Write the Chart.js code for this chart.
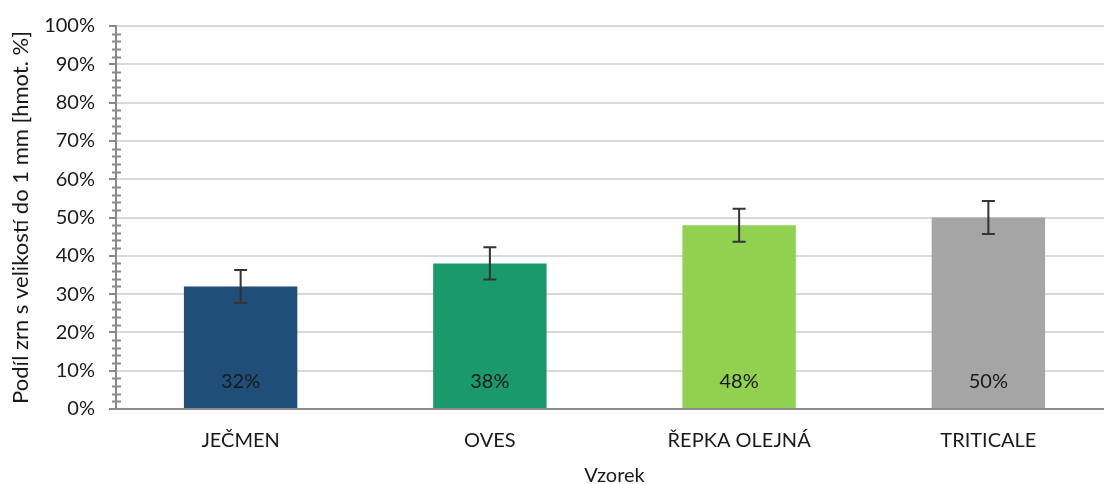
<!DOCTYPE html>
<html>
<head>
<meta charset="utf-8">
<script src="https://cdn.jsdelivr.net/npm/chart.js@4"></script>
<style>
  html, body { margin: 0; padding: 0; background: #fff; overflow: hidden; }
</style>
</head>
<body>
<canvas id="chart" width="1113" height="484"></canvas>
<script>
// Podíl zrn do 1 mm podle vzorku
const categories = ["JEČMEN", "OVES", "ŘEPKA OLEJNÁ", "TRITICALE"];
const shares = [32, 38, 48, 50];
const errors = [4.3, 4.2, 4.3, 4.3];
const barColors = ["#1F4E79", "#1A9A6C", "#92D050", "#A5A5A5"];

const FONT = "Lato, 'Open Sans', sans-serif";

// minor ticks on the y axis every 2 %, crossing the axis line
const minorTicks = {
  id: "minorTicks",
  afterDraw(chart) {
    const y = chart.scales.y;
    const ctx = chart.ctx;
    const x0 = chart.chartArea.left;
    ctx.save();
    ctx.strokeStyle = "#898989";
    ctx.lineWidth = 2;
    for (let v = 0; v <= 100; v += 2) {
      if (v % 10 === 0) continue;
      const py = Math.round(y.getPixelForValue(v)) + 0.5;
      ctx.beginPath();
      ctx.moveTo(x0 - 4, py);
      ctx.lineTo(x0 + 5, py);
      ctx.stroke();
    }
    ctx.restore();
  }
};

// error bars and value labels inside the bars
const barExtras = {
  id: "barExtras",
  afterDatasetsDraw(chart) {
    const ctx = chart.ctx;
    const y = chart.scales.y;
    const meta = chart.getDatasetMeta(0);
    ctx.save();
    meta.data.forEach((bar, i) => {
      const top = y.getPixelForValue(shares[i] + errors[i]);
      const bot = y.getPixelForValue(shares[i] - errors[i]);
      ctx.strokeStyle = "#333";
      ctx.lineWidth = 2;
      ctx.beginPath();
      ctx.moveTo(bar.x, top);
      ctx.lineTo(bar.x, bot);
      ctx.moveTo(bar.x - 6.5, top);
      ctx.lineTo(bar.x + 6.5, top);
      ctx.moveTo(bar.x - 6.5, bot);
      ctx.lineTo(bar.x + 6.5, bot);
      ctx.stroke();

      ctx.fillStyle = "#1a1a1a";
      ctx.font = "20px " + FONT;
      ctx.textAlign = "center";
      ctx.textBaseline = "middle";
      ctx.fillText(shares[i] + "%", bar.x, bar.base - 26);
    });
    ctx.restore();
  }
};

new Chart(document.getElementById("chart"), {
  type: "bar",
  data: {
    labels: categories,
    datasets: [{
      data: shares,
      backgroundColor: barColors,
      borderWidth: 0,
      barPercentage: 0.455,
      categoryPercentage: 1
    }]
  },
  options: {
    responsive: false,
    animation: false,
    layout: { padding: { top: 24, left: 0, right: 0, bottom: 0 } },
    plugins: {
      legend: { display: false },
      tooltip: { enabled: false }
    },
    scales: {
      x: {
        grid: { display: false },
        border: { color: "#898989", width: 2 },
        ticks: { color: "#1a1a1a", font: { family: FONT, size: 20 }, padding: 12 },
        title: {
          display: true,
          text: "Vzorek",
          color: "#1a1a1a",
          font: { family: FONT, size: 20 },
          padding: { top: 12, bottom: -4 }
        },
        afterFit(scale) { scale.height = 75; }
      },
      y: {
        min: 0,
        max: 100,
        ticks: {
          stepSize: 10,
          callback: v => v + "%",
          color: "#1a1a1a",
          font: { family: FONT, size: 20 },
          padding: 14
        },
        grid: {
          color: "#d9d9d9",
          lineWidth: 2,
          tickColor: "#898989",
          tickLength: 7
        },
        border: { color: "#898989", width: 2 },
        title: {
          display: true,
          text: "Podíl zrn s velikostí do 1 mm [hmot. %]",
          color: "#1a1a1a",
          font: { family: FONT, size: 22 },
          padding: { top: 8, bottom: 0 }
        },
        afterFit(scale) { scale.width = 116; }
      }
    }
  },
  plugins: [minorTicks, barExtras]
});
</script>
</body>
</html>
